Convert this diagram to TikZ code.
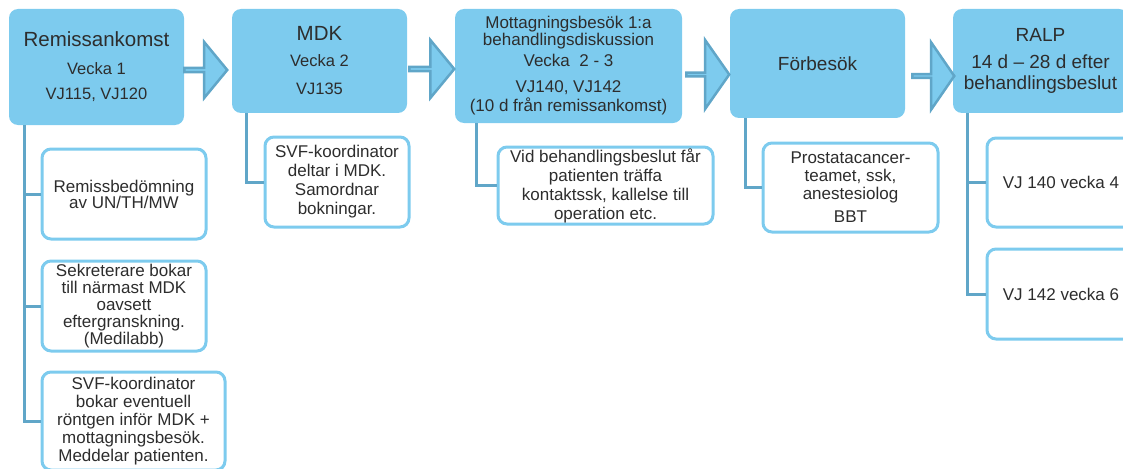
\documentclass[tikz,border=0pt]{standalone}
\usepackage{fontspec}
\setmainfont{Liberation Sans}
\usetikzlibrary{shapes.arrows}
\definecolor{ljusbla}{RGB}{125,203,238}
\definecolor{morkbla}{RGB}{96,166,200}
\definecolor{textgra}{RGB}{45,45,45}

\begin{document}
\begin{tikzpicture}[x=1pt, y=-1pt]
\tikzset{ruta/.style={fill=ljusbla, rounded corners=9pt, text=textgra, align=center, inner sep=0pt},
delruta/.style={draw=ljusbla, fill=white, line width=3pt, rounded corners=9pt, text=textgra, align=center, inner sep=0pt},
pil/.style={single arrow, draw=morkbla, fill=ljusbla, line width=2.5pt, inner sep=0pt, anchor=tail, single arrow head extend=#1},
linje/.style={draw=morkbla, line width=3pt}}
\useasboundingbox (0,0) rectangle (1123,468);
\clip (0,0) rectangle (1123,468);
% huvudrutor
\node[ruta, minimum width=175pt, minimum height=116pt, font=\fontsize{16.5}{25}\selectfont] (B1) at (96.5,67) {{\fontsize{20.5}{25}\selectfont Remissankomst}\\[3pt]Vecka 1\\VJ115, VJ120};
\node[ruta, minimum width=175pt, minimum height=104pt, font=\fontsize{16.5}{26}\selectfont] (B2) at (319.5,61) {{\fontsize{20.5}{26}\selectfont MDK}\\Vecka 2\\[2pt]VJ135};
\node[ruta, minimum width=227pt, minimum height=114pt, font=\fontsize{17}{17}\selectfont] (B3) at (568.5,66) {Mottagningsbesök 1:a\\behandlingsdiskussion\\[4pt]Vecka~~2 - 3\\[9pt]VJ140, VJ142\\[2pt](10 d från remissankomst)};
\node[ruta, minimum width=175pt, minimum height=109pt, font=\fontsize{19}{21}\selectfont] (B4) at (817.5,63.5) {Förbesök};
\node[ruta, minimum width=175pt, minimum height=104pt, font=\fontsize{19}{21}\selectfont] (B5) at (1040.5,61) {RALP\\[6pt]14 d -- 28 d efter\\behandlingsbeslut};
% pilar
\node[pil=14.5pt, minimum height=43pt, minimum width=56pt, single arrow tip angle=101] (P1) at (183,70) {};
\node[pil=15.5pt, minimum height=45pt, minimum width=58pt, single arrow tip angle=101] (P2) at (408,69) {};
\node[pil=21pt, minimum height=43pt, minimum width=69pt, single arrow tip angle=110] (P3) at (685,74.5) {};
\node[pil=20pt, minimum height=42pt, minimum width=67pt, single arrow tip angle=111] (P4) at (911,76) {};
% delrutor
\node[delruta, minimum width=164pt, minimum height=90pt, font=\fontsize{17}{16}\selectfont] (D1a) at (124,194) {Remissbedömning\\av UN/TH/MW};
\node[delruta, minimum width=164pt, minimum height=90pt, font=\fontsize{17}{17}\selectfont] (D1b) at (124,306) {Sekreterare bokar\\till närmast MDK\\oavsett\\eftergranskning.\\(Medilabb)};
\node[delruta, minimum width=183pt, minimum height=98pt, font=\fontsize{17}{18}\selectfont] (D1c) at (133.5,421) {SVF-koordinator\\bokar eventuell\\röntgen inför MDK +\\mottagningsbesök.\\Meddelar patienten.};
\node[delruta, minimum width=144pt, minimum height=90pt, font=\fontsize{17}{19}\selectfont] (D2) at (337,182) {SVF-koordinator\\deltar i MDK.\\Samordnar\\bokningar.};
\node[delruta, minimum width=215pt, minimum height=77pt, font=\fontsize{17}{19}\selectfont] (D3) at (605.5,185.5) {Vid behandlingsbeslut får\\patienten träffa\\kontaktssk, kallelse till\\operation etc.};
\node[delruta, minimum width=175pt, minimum height=89pt, font=\fontsize{17}{18}\selectfont] (D4) at (850.5,187.5) {Prostatacancer-\\teamet, ssk,\\anestesiolog\\[5pt]BBT};
\node[delruta, minimum width=148pt, minimum height=89pt, font=\fontsize{17}{19}\selectfont] (D5a) at (1061,182.5) {VJ 140 vecka 4};
\node[delruta, minimum width=148pt, minimum height=90pt, font=\fontsize{17}{19}\selectfont] (D5b) at (1061,294) {VJ 142 vecka 6};
% linjer
\coordinate (T1) at ([xshift=16pt]B1.south west);
\coordinate (T2) at ([xshift=15pt]B2.south west);
\coordinate (T3) at ([xshift=22pt]B3.south west);
\coordinate (T4) at ([xshift=16pt]B4.south west);
\coordinate (T5) at ([xshift=15pt]B5.south west);
\draw[linje] (T1) |- (D1a.west);
\draw[linje] (T1) |- (D1b.west);
\draw[linje] (T1) |- (D1c.west);
\draw[linje] (T2) |- (D2.west);
\draw[linje] (T3) |- (D3.west);
\draw[linje] (T4) |- (D4.west);
\draw[linje] (T5) |- (D5a.west);
\draw[linje] (T5) |- (D5b.west);
\end{tikzpicture}
\end{document}
